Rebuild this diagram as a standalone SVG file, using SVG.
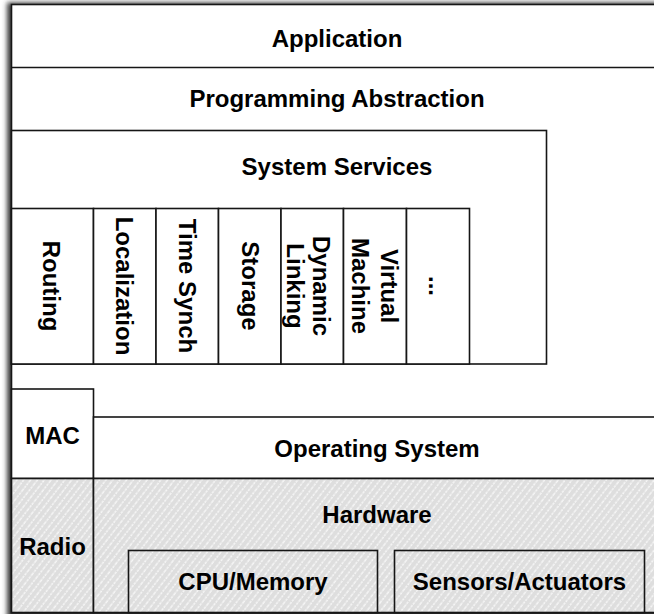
<svg xmlns="http://www.w3.org/2000/svg" width="654" height="614" viewBox="0 0 654 614">
  <defs>
    <filter id="soft" x="-10%" y="-10%" width="120%" height="120%">
      <feGaussianBlur stdDeviation="2.6"/>
    </filter>
    <pattern id="hatch" width="5.4" height="12" patternUnits="userSpaceOnUse" patternTransform="rotate(38)">
      <rect width="5.4" height="12" fill="#dedede"/>
      <line x1="1" y1="0" x2="1" y2="12" stroke="#ffffff" stroke-width="1.1" stroke-dasharray="2.5 1" opacity="0.95"/>
    </pattern>
    <style>
      .box { fill: #ffffff; stroke: #161616; stroke-width: 1.6; }
      .hw { fill: url(#hatch); stroke: #161616; stroke-width: 1.6; }
      .edge { fill: none; stroke: #161616; stroke-width: 1.6; }
      .lbl { font-family: "Liberation Sans", Arial, Helvetica, sans-serif; font-weight: bold; font-size: 24px; fill: #000; text-anchor: middle; }
    </style>
  </defs>

  <!-- drop shadow behind the stack -->
  <rect x="7" y="2.5" width="680" height="640" fill="#3a3a3a" filter="url(#soft)"/>

  <!-- outer frame -->
  <rect class="box" x="11.5" y="4.5" width="660" height="608"/>

  <g id="application">
    <line class="edge" x1="11.5" y1="67.5" x2="672" y2="67.5"/>
    <text class="lbl" x="337" y="47">Application</text>
  </g>

  <g id="programming-abstraction">
    <text class="lbl" x="337" y="107">Programming Abstraction</text>
  </g>

  <g id="system-services">
    <rect class="box" x="11.5" y="130.5" width="535" height="233.5"/>
    <text class="lbl" x="337" y="175">System Services</text>
  </g>

  <!-- service columns, labels read top to bottom -->
  <g id="routing">
    <rect class="box" x="11.5" y="208.5" width="82" height="155.5"/>
    <text class="lbl" transform="translate(43 286) rotate(90)">Routing</text>
  </g>
  <g id="localization">
    <rect class="box" x="93.5" y="208.5" width="62.5" height="155.5"/>
    <text class="lbl" transform="translate(116 286) rotate(90)">Localization</text>
  </g>
  <g id="time-synch">
    <rect class="box" x="156" y="208.5" width="62.5" height="155.5"/>
    <text class="lbl" transform="translate(179 286) rotate(90)">Time Synch</text>
  </g>
  <g id="storage">
    <rect class="box" x="218.5" y="208.5" width="62.5" height="155.5"/>
    <text class="lbl" transform="translate(242 286) rotate(90)">Storage</text>
  </g>
  <g id="dynamic-linking">
    <rect class="box" x="281" y="208.5" width="62.5" height="155.5"/>
    <text class="lbl" transform="translate(313 286) rotate(90)">Dynamic</text>
    <text class="lbl" transform="translate(287 286) rotate(90)">Linking</text>
  </g>
  <g id="virtual-machine">
    <rect class="box" x="343.5" y="208.5" width="63" height="155.5"/>
    <text class="lbl" transform="translate(381 286) rotate(90)">Virtual</text>
    <text class="lbl" transform="translate(352 286) rotate(90)">Machine</text>
  </g>
  <g id="more-services">
    <rect class="box" x="406.5" y="208.5" width="63" height="155.5"/>
    <text class="lbl" transform="translate(429 286) rotate(90)">...</text>
  </g>

  <g id="mac">
    <rect class="box" x="11.5" y="389" width="82" height="89.5"/>
    <text class="lbl" x="52.5" y="444">MAC</text>
  </g>

  <g id="operating-system">
    <rect class="box" x="93.5" y="417" width="580" height="61.5"/>
    <text class="lbl" x="377" y="457">Operating System</text>
  </g>

  <g id="radio">
    <rect class="hw" x="11.5" y="478.5" width="82" height="134"/>
    <text class="lbl" x="52.5" y="555">Radio</text>
  </g>

  <g id="hardware">
    <rect class="hw" x="93.5" y="478.5" width="580" height="134"/>
    <text class="lbl" x="377" y="523">Hardware</text>
  </g>

  <g id="cpu-memory">
    <rect class="hw" x="128.5" y="550.5" width="249" height="62"/>
    <text class="lbl" x="253" y="590">CPU/Memory</text>
  </g>

  <g id="sensors-actuators">
    <rect class="hw" x="394.5" y="550.5" width="250" height="62"/>
    <text class="lbl" x="519.5" y="590">Sensors/Actuators</text>
  </g>

  <!-- no connectors between layers -->
  <g id="connectors"></g>
</svg>
